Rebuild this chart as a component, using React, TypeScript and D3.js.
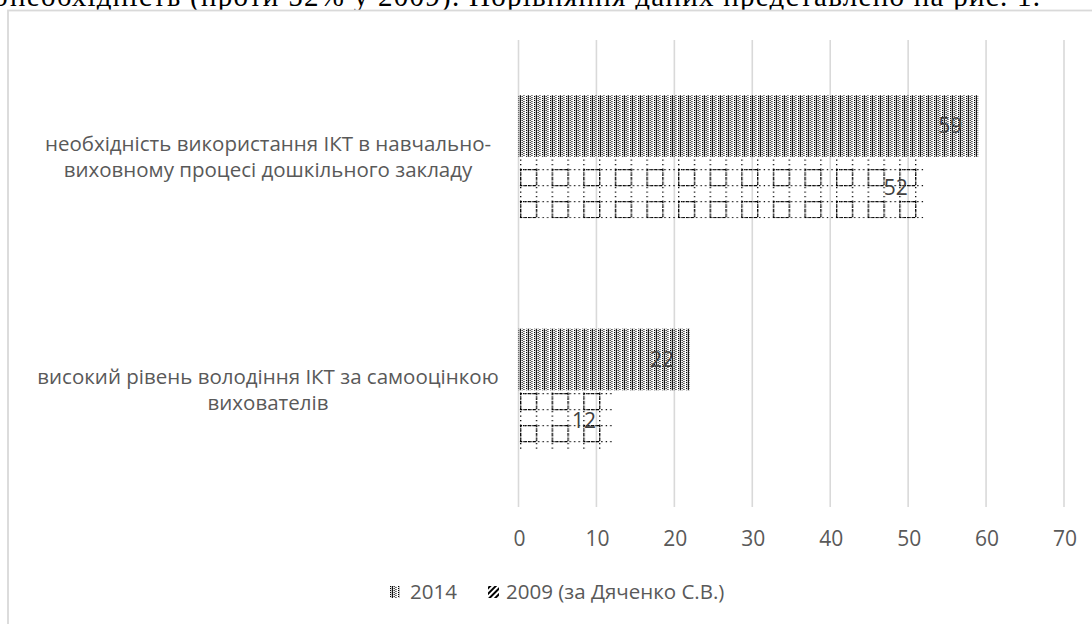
import React from 'react';
import * as d3 from 'd3';

// chart data
const categories = ['cat1', 'cat2'];
const categoryLines = [
  ['необхідність використання ІКТ в навчально-', 'виховному процесі дошкільного закладу'],
  ['високий рівень володіння ІКТ за самооцінкою', 'вихователів'],
];
const seriesNames = ['2014', '2009 (за Дяченко С.В.)'];
const values2014 = [59, 22];
const values2009 = [52, 12];
const xTicks = [0, 10, 20, 30, 40, 50, 60, 70];

const W = 1092;
const H = 624;
const font = '"Open Sans", "Noto Sans", sans-serif';
const textGray = '#595959';

export default function App() {
  const x = d3.scaleLinear().domain([0, 70]).range([518.5, 1064]);
  const y0 = d3.scaleBand<string>()
    .domain(categories)
    .range([40, 507])
    .paddingInner(0.473)
    .paddingOuter(0.2365);
  const y1 = d3.scaleBand<string>()
    .domain(seriesNames)
    .range([0, y0.bandwidth()]);

  const series = [
    { name: seriesNames[0], values: values2014, fill: 'url(#dots2014)' },
    { name: seriesNames[1], values: values2009, fill: 'url(#grid2009)' },
  ];

  // dot positions for the dense pattern (x, y inside a 16x4 tile)
  const dotCols = [0, 1.8, 3.6, 5.4, 8, 9.8, 11.6, 13.4];
  const dots: [number, number][] = [];
  dotCols.forEach((cx, i) => {
    const ys = i % 4 === 1 ? [0, 1, 2, 3] : [i % 2 ? 1 : 0, i % 2 ? 3 : 2];
    ys.forEach(yy => dots.push([cx, yy]));
  });

  return (
    <div style={{ position: 'fixed', left: 0, top: 0, width: W, height: H, background: '#fff' }}>
      <svg width={W} height={H} style={{ display: 'block' }}>
        <defs>
          {/* dense dotted fill */}
          <pattern id="dots2014" patternUnits="userSpaceOnUse" width="16" height="4" x="518" y="0">
            {dots.map(([dx, dy], i) => (
              <rect key={i} x={dx} y={dy} width="1.1" height="1.1" fill="#000" />
            ))}
          </pattern>
          {/* dotted squares grid */}
          <pattern id="grid2009" patternUnits="userSpaceOnUse" width="31.6" height="32" x="520" y="169">
            <line x1="0" y1="0.7" x2="31.6" y2="0.7" stroke="#000" strokeWidth="1.3" strokeDasharray="1.3 3.2" />
            <line x1="0" y1="16.7" x2="31.6" y2="16.7" stroke="#000" strokeWidth="1.3" strokeDasharray="1.3 3.2" />
            <line x1="0.7" y1="0" x2="0.7" y2="32" stroke="#000" strokeWidth="1.3" strokeDasharray="1.3 3.2" />
            <line x1="16.5" y1="0" x2="16.5" y2="32" stroke="#000" strokeWidth="1.3" strokeDasharray="1.3 3.2" />
            <rect x="0.7" y="0.7" width="15.8" height="16" fill="none" stroke="#000" strokeWidth="1.3" strokeDasharray="1.3 1" />
          </pattern>
          <pattern id="legend2009" patternUnits="userSpaceOnUse" width="4" height="4" patternTransform="rotate(45)">
            <rect x="0" y="0" width="2" height="4" fill="#000" />
          </pattern>
        </defs>

        {/* body text above the chart, cut by the screenshot */}
        <text x={-14} y={6} fontFamily='"Liberation Serif", "Times New Roman", serif' fontSize={29} fill="#000">ю</text>
        <text x={10} y={6} fontFamily='"Liberation Serif", "Times New Roman", serif' fontSize={29} fill="#000"
          textLength={1030} lengthAdjust="spacing">
          необхідність (проти 52% у 2009). Порівняння даних представлено на рис. 1.
        </text>

        {/* chart frame */}
        <rect x={8} y={10.5} width={W + 20} height={H + 20} fill="#fff" stroke="#d9d9d9" strokeWidth={1.8} />

        {/* gridlines */}
        {xTicks.map(t => (
          <line key={t} x1={x(t)} x2={x(t)} y1={40} y2={507} stroke="#d9d9d9" strokeWidth={1.6} />
        ))}

        {/* bars */}
        {series.map(s => (
          <g key={s.name}>
            {categories.map((c, ci) => {
              const yy = (y0(c) || 0) + (y1(s.name) || 0);
              const v = s.values[ci];
              return (
                <g key={c}>
                  <rect x={x(0)} y={yy} width={x(v) - x(0)} height={y1.bandwidth()} fill={s.fill} />
                  <text x={x(v) - 16} y={yy + y1.bandwidth() / 2} dy="0.35em" textAnchor="end"
                    fontFamily={font} fontSize={21} fill="#404040">{v}</text>
                </g>
              );
            })}
          </g>
        ))}

        {/* category labels */}
        {categories.map((c, ci) => {
          const cy = (y0(c) || 0) + y0.bandwidth() / 2;
          const lines = categoryLines[ci];
          return (
            <text key={c} textAnchor="middle" fontFamily={font} fontSize={20.5} fill={textGray}>
              {lines.map((l, li) => (
                <tspan key={li} x={268} y={cy + (li - (lines.length - 1) / 2) * 26} dy="0.35em">{l}</tspan>
              ))}
            </text>
          );
        })}

        {/* x axis tick labels */}
        {xTicks.map(t => (
          <text key={t} x={x(t) + 1} y={539} dy="0.35em" textAnchor="middle"
            fontFamily={font} fontSize={21} fill={textGray}>{t}</text>
        ))}

        {/* legend */}
        <g>
          <rect x={389} y={586} width={11} height={12} fill="url(#dots2014)" />
          <text x={410} y={592} dy="0.35em" fontFamily={font} fontSize={20.5} fill={textGray}>{seriesNames[0]}</text>
          <rect x={488} y={586} width={11} height={12} fill="url(#legend2009)" />
          <text x={506} y={592} dy="0.35em" fontFamily={font} fontSize={20.5} fill={textGray}>{seriesNames[1]}</text>
        </g>
      </svg>
    </div>
  );
}
